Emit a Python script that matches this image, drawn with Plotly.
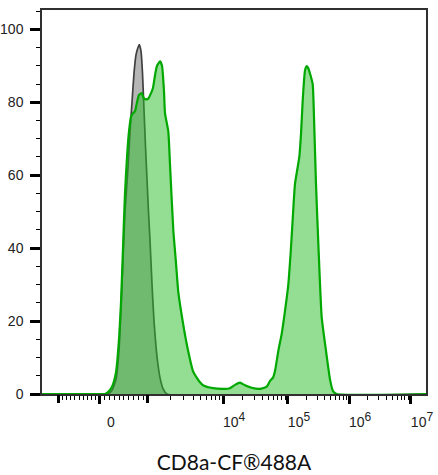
import numpy as np
import plotly.graph_objects as go

# ---------------- data (x in display channels 0-1000, y = normalised count) -------------
control_channel = [0, 150, 171.9, 182.3, 192.7, 200.5, 208.3, 216.1, 223.9, 229.2, 234.4, 239.6,
                   244.8, 250.0, 253.4, 257.8, 261.7, 265.6, 269.5, 273.4, 277.3, 281.3,
                   286.5, 291.7, 296.9, 302.1, 307.3, 315.1, 325.5, 1000]
control_count = [0, 0, 0, 1, 4, 12, 30, 50, 62, 72, 80, 88,
                 93, 95, 95.8, 94, 88, 78, 68, 59, 50, 42,
                 30, 20, 13, 8, 4.5, 1.5, 0, 0]

cd8_channel = [0, 150, 164.1, 171.9, 182.3, 192.7, 200.5, 205.7, 210.9, 216.1, 221.4, 226.6,
               231.8, 237.0, 242.2, 247.4, 252.6, 259.6, 265.6, 270.8, 276.8, 283.9,
               289.1, 294.3, 299.5, 307.3, 312.5, 317.7, 320.3, 328.9, 333.3, 341.9,
               348.9, 354.9, 367.9, 380.2, 393.2, 402.9, 411.5, 419.3, 445.3, 471.4,
               489.6, 502.6, 515.6, 528.6, 546.1, 567.7, 585.2, 593.8, 601.6, 606.8,
               615.4, 624.2, 632.8, 641.4, 647.7, 652.9, 658.9, 670.1, 674.5, 678.9,
               684.9, 689.3, 692.7, 697.9, 704.9, 708.3, 713.5, 720.5, 728.4, 739.6,
               750.0, 757.8, 767.4, 1000]
cd8_count = [0, 0, 0, 0.5, 2, 6, 15, 25, 40, 55, 65, 72,
             76, 77, 77.5, 80, 82, 82.5, 81, 80.8, 81, 82.5,
             84, 87.4, 90, 91.2, 90, 83, 77, 72, 63, 45,
             36, 28, 19, 12, 6.3, 4.5, 3.2, 2.4, 1.6, 1.4,
             1.6, 2.5, 3.1, 2.4, 1.7, 1.4, 2.0, 3.6, 4.5, 6.3,
             11.8, 16.5, 22.8, 30, 39, 48, 57.7, 65, 71.4, 80.5,
             88.7, 89.9, 89.5, 87.9, 85, 76, 57.7, 39, 21, 11.8,
             4, 0.8, 0, 0]

# tick values (fluorescence) and their labels
x_label_values = [0, 1e4, 1e5, 1e6, 1e7]
x_label_exponents = [None, 4, 5, 6, 7]
x_unlabeled_major_values = [-1000, 1000]
y_major_values = [0, 20, 40, 60, 80, 100]
y_minor_values = [5, 10, 15, 25, 30, 35, 45, 50, 55, 65, 70, 75, 85, 90, 95, 105]

# ---------------- biexponential-like display scale (value -> channel) -------------
SCALE_VALUES = [-1000, 0, 1000, 1e4, 1e5, 1e6, 1e7]
SCALE_CHANNELS = [41.7, 151.0, 276.0, 471.4, 640.6, 799.5, 960.9]


def to_channel(v):
    if v <= 1000:
        return float(np.interp(v, SCALE_VALUES[:3], SCALE_CHANNELS[:3]))
    logs = np.log10(SCALE_VALUES[2:])
    return float(np.interp(np.log10(v), logs, SCALE_CHANNELS[2:]))


def label(exp):
    if exp is None:
        return "0"
    return "10<sup><span style='font-size:12px'>%d</span></sup>" % exp


x_minor_values = [s * k * 100 for s in (-1, 1) for k in range(1, 10)]
for d in range(3, 7):
    x_minor_values += [m * 10 ** d for m in range(2, 10)]

x_label_pos = [to_channel(v) for v in x_label_values]
x_label_texts = [label(e) for e in x_label_exponents]
x_unlabeled_pos = [to_channel(v) for v in x_unlabeled_major_values]
x_minor_pos = [to_channel(v) for v in x_minor_values]

fig = go.Figure()
fig.add_trace(go.Scatter(
    x=control_channel, y=control_count, mode="lines", fill="tozeroy",
    fillcolor="rgb(182,182,182)", line=dict(color="rgb(64,64,64)", width=1.7, shape="spline", smoothing=0.5),
    showlegend=False, hoverinfo="skip"))
fig.add_trace(go.Scatter(
    x=cd8_channel, y=cd8_count, mode="lines", fill="tozeroy",
    fillcolor="rgba(40,190,40,0.5)", line=dict(color="rgb(0,168,0)", width=2.2, shape="spline", smoothing=0.5),
    showlegend=False, hoverinfo="skip"))

tick_font = dict(family="Liberation Sans, Arial, sans-serif", size=14, color="#222")

fig.update_layout(
    width=438, height=475,
    margin=dict(l=42, r=12, t=10, b=81),
    paper_bgcolor="white", plot_bgcolor="white",
    xaxis=dict(
        range=[0, 1000], showgrid=False, zeroline=False, automargin=False,
        showline=True, linecolor="#303030", linewidth=1.5, mirror=True,
        tickmode="array", tickvals=x_label_pos, ticktext=x_label_texts,
        ticks="outside", ticklen=8, tickwidth=2.5, tickcolor="black",
        ticklabelshift=11, ticklabelstandoff=6,
        tickfont=tick_font,
        minor=dict(tickmode="array", tickvals=x_minor_pos, ticks="outside",
                   ticklen=4, tickwidth=1, tickcolor="black"),
        title=dict(text="CD8a-CF®488A", font=dict(family="Lato, sans-serif", size=21, color="#111"),
                   standoff=27),
    ),
    xaxis2=dict(
        range=[0, 1000], overlaying="x", side="bottom", anchor="y", automargin=False,
        showgrid=False, zeroline=False, showline=False, showticklabels=False,
        tickmode="array", tickvals=x_unlabeled_pos,
        ticks="outside", ticklen=8, tickwidth=2.5, tickcolor="black",
    ),
    yaxis=dict(
        range=[0, 105.3], showgrid=False, zeroline=False, automargin=False,
        showline=True, linecolor="#303030", linewidth=1.5, mirror=True,
        tickmode="array", tickvals=y_major_values,
        ticks="outside", ticklen=10, tickwidth=2.5, tickcolor="black",
        ticklabelstandoff=4,
        tickfont=tick_font,
        minor=dict(tickmode="array", tickvals=y_minor_values, ticks="outside",
                   ticklen=4, tickwidth=1, tickcolor="black"),
    ),
)
# invisible trace to activate the second x axis (tick marks only)
fig.add_trace(go.Scatter(x=[None], y=[None], xaxis="x2", yaxis="y", showlegend=False, hoverinfo="skip"))

fig.write_html("out.html", config={"displayModeBar": False},
               post_script="document.body.style.margin='0';document.body.style.padding='0';")
